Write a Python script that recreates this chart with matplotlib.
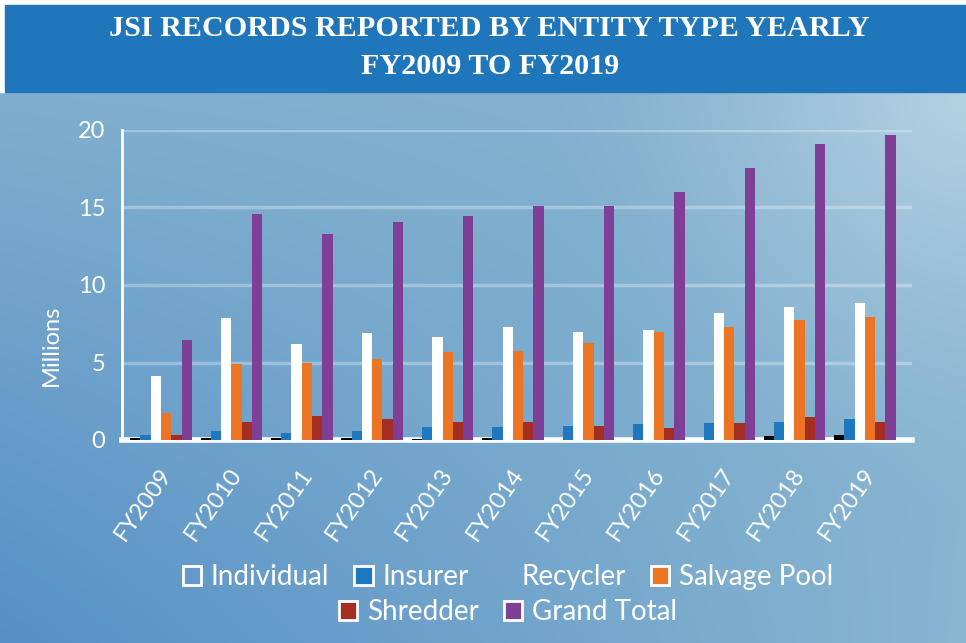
import numpy as np
import matplotlib
matplotlib.use('Agg')
import matplotlib.pyplot as plt
import matplotlib.transforms as mtransforms
from matplotlib.patches import Rectangle, Patch

years = ['FY2009', 'FY2010', 'FY2011', 'FY2012', 'FY2013', 'FY2014',
         'FY2015', 'FY2016', 'FY2017', 'FY2018', 'FY2019']

# values in millions
individual = [0.10, 0.10, 0.10, 0.10, 0.05, 0.15, 0.02, 0.02, 0.02, 0.26, 0.32]
insurer = [0.30, 0.60, 0.45, 0.60, 0.85, 0.85, 0.90, 1.03, 1.10, 1.16, 1.35]
recycler = [4.10, 7.90, 6.20, 6.90, 6.65, 7.30, 6.95, 7.10, 8.20, 8.60, 8.85]
salvage_pool = [1.75, 4.90, 5.00, 5.20, 5.70, 5.75, 6.25, 6.95, 7.30, 7.75, 7.95]
shredder = [0.30, 1.16, 1.55, 1.35, 1.16, 1.16, 0.90, 0.77, 1.10, 1.50, 1.16]
grand_total = [6.45, 14.60, 13.30, 14.05, 14.45, 15.10, 15.10, 16.00, 17.55, 19.10, 19.70]

series = [individual, insurer, recycler, salvage_pool, shredder, grand_total]
colors = ['#000000', '#1f77be', '#ffffff', '#ec7525', '#a42e22', '#7f3f96']

W, H = 966, 643
fig = plt.figure(figsize=(W / 100, H / 100), dpi=100, facecolor='white')

# background gradient
bg = fig.add_axes([0, 0, 1, 1], zorder=-10)
bg.set_axis_off()
yy, xx = np.mgrid[0:H, 0:W]
u = xx / W
v = (yy - 92) / (H - 92)
v = np.clip(v, 0, 1)
def hexrgb(h):
    return np.array([int(h[i:i + 2], 16) for i in (1, 3, 5)]) / 255.0
tl, tr, bl, br = hexrgb('#80aece'), hexrgb('#86b3cf'), hexrgb('#5690c6'), hexrgb('#89b6d1')
img = ((1 - u)[..., None] * (1 - v)[..., None] * tl + u[..., None] * (1 - v)[..., None] * tr
       + (1 - u)[..., None] * v[..., None] * bl + u[..., None] * v[..., None] * br)
d = np.hypot(xx - W, yy - 92)
wgt = np.clip(1 - d / 420, 0, 1) ** 1.4
img = img * (1 - wgt[..., None]) + hexrgb('#b6d2e3') * wgt[..., None]
bg.imshow(img, extent=[0, 1, 0, 1], aspect='auto', transform=bg.transAxes)
bg.set_xlim(0, 1)
bg.set_ylim(0, 1)
bg.add_patch(Rectangle((0, 1 - 5 / H), 1, 5 / H, transform=bg.transAxes, color='white'))
bg.add_patch(Rectangle((0, 1 - 92 / H), 5 / W, 92 / H, transform=bg.transAxes, color='white'))
bg.add_patch(Rectangle((5 / W, 1 - 92 / H), 1, 87 / H, transform=bg.transAxes, color='#1f76bb'))

title_font = dict(family='Liberation Serif', weight='bold', color='white', fontsize=21.7,
                  ha='center', va='center')
fig.text(0.507, 1 - 28 / H, 'JSI RECORDS REPORTED BY ENTITY TYPE YEARLY', **title_font)
fig.text(0.507, 1 - 67 / H, 'FY2009 TO FY2019', **title_font)

ax = fig.add_axes([122 / W, 1 - 440 / H, (912 - 122) / W, 310 / H])
ax.set_facecolor('none')

x = np.arange(len(years))
bw = 0.146
for k, (vals, c) in enumerate(zip(series, colors)):
    ax.bar(x + (k - 2.5) * bw, vals, bw, color=c, zorder=3)

ax.set_xlim(-0.554, 10.67)
ax.set_ylim(0, 20)
ax.set_yticks([0, 5, 10, 15, 20])
ax.grid(axis='y', color='white', alpha=0.3, linewidth=2.5, zorder=0)
for s in ['top', 'right']:
    ax.spines[s].set_visible(False)
ax.spines['left'].set_color('white')
ax.spines['left'].set_linewidth(2)
ax.spines['bottom'].set_color('white')
ax.spines['bottom'].set_linewidth(4)

ax.tick_params(axis='y', length=0, pad=12, labelsize=17, labelcolor='white')
ax.tick_params(axis='x', length=0, pad=22, labelsize=17, labelcolor='white')
for lab in ax.get_yticklabels():
    lab.set_family('Lato')
ax.set_xticks(x)
ax.set_xticklabels(years, rotation=55, ha='right', va='center',
                   rotation_mode='anchor', family='Lato')
offset = mtransforms.ScaledTranslation(6 / 100, 0, fig.dpi_scale_trans)
for lab in ax.get_xticklabels():
    lab.set_transform(lab.get_transform() + offset)

ax.set_ylabel('Millions', fontsize=17, color='white', family='Lato')
ax.yaxis.set_label_coords(-0.076, 0.306)

# legend, two centred rows
leg_kw = dict(frameon=False, handlelength=0.65, handleheight=0.65,
              handletextpad=0.35, columnspacing=0.9, labelcolor='white',
              prop={'family': 'Lato', 'size': 20}, loc='center')
row1 = [Patch(facecolor='none', edgecolor='white', linewidth=2),
        Patch(facecolor=colors[1], edgecolor='white', linewidth=2),
        Patch(facecolor='none', edgecolor='none'),
        Patch(facecolor=colors[3], edgecolor='white', linewidth=2)]
row2 = [Patch(facecolor=colors[4], edgecolor='white', linewidth=2),
        Patch(facecolor=colors[5], edgecolor='white', linewidth=2)]
fig.legend(row1, ['Individual', 'Insurer', 'Recycler', 'Salvage Pool'], ncol=4,
           bbox_to_anchor=(508 / W, 1 - 577 / H), **leg_kw)
fig.legend(row2, ['Shredder', 'Grand Total'], ncol=2,
           bbox_to_anchor=(508 / W, 1 - 612 / H), **leg_kw)

fig.savefig('out.png', dpi=100, facecolor=fig.get_facecolor())
